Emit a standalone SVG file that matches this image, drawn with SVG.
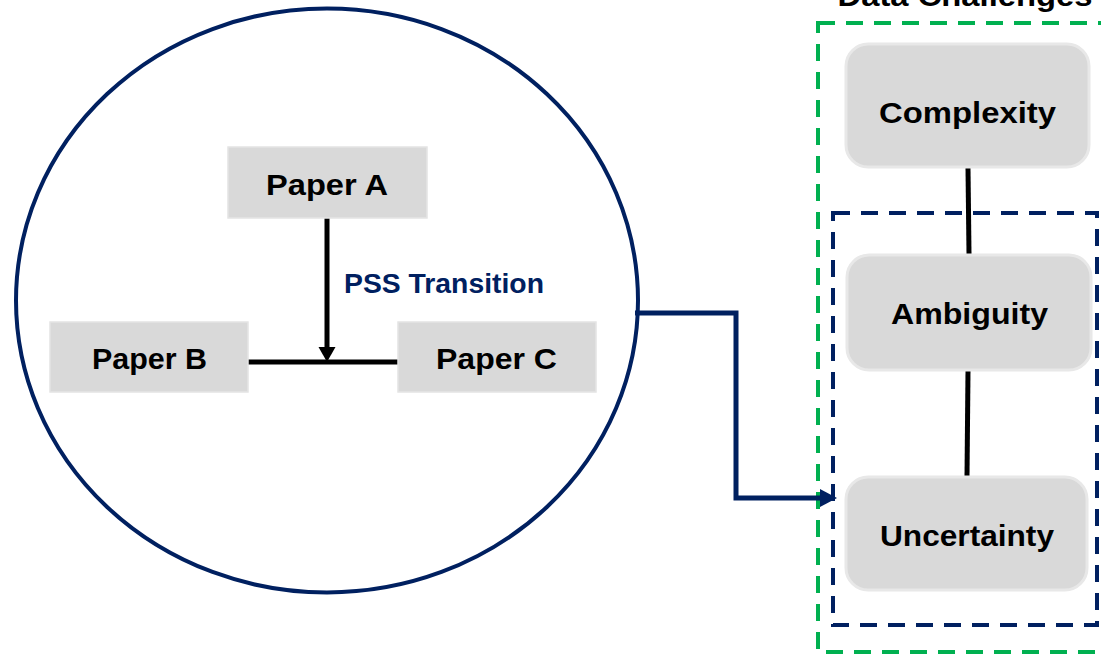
<svg xmlns="http://www.w3.org/2000/svg" width="1101" height="656" viewBox="0 0 1101 656">
  <style>
    .lbl { font-family: "Liberation Sans", Arial, sans-serif; font-weight: bold; fill: #000; text-anchor: middle; }
    .paper { fill: #d9d9d9; stroke: #e4e4e4; stroke-width: 1.5; }
    .chal { fill: #d9d9d9; stroke: #e8e8e8; stroke-width: 3; }
    .link { stroke: #000; stroke-width: 5; fill: none; }
    .navy { stroke: #002060; fill: none; }
  </style>
  <defs>
    <marker id="blackHead" markerWidth="10" markerHeight="10" refX="9" refY="5" orient="auto" markerUnits="userSpaceOnUse" viewBox="0 0 10 10">
      <path d="M0,0 L10,5 L0,10 Z" fill="#000"/>
    </marker>
  </defs>

  <!-- Title (partially above the canvas) -->
  <text class="lbl" x="965" y="6" font-size="29" textLength="255" lengthAdjust="spacingAndGlyphs">Data Challenges</text>

  <!-- Outer green dashed frame and inner navy dashed frame -->
  <rect x="818" y="23" width="300" height="629" fill="none" stroke="#00b050" stroke-width="4" stroke-dasharray="17 11"/>
  <rect x="833" y="213" width="264" height="412" fill="none" stroke="#002060" stroke-width="4" stroke-dasharray="17 11"/>

  <!-- Scope ellipse -->
  <ellipse cx="327" cy="300.5" rx="311" ry="292" class="navy" stroke-width="4"/>

  <!-- Connectors -->
  <g id="connectors">
    <line class="link" x1="327" y1="218" x2="327" y2="350"/>
    <polygon points="318.5,347 335.5,347 327,362" fill="#000"/>
    <line class="link" x1="248" y1="362" x2="398" y2="362"/>
    <line class="link" x1="968" y1="168" x2="969" y2="254"/>
    <line class="link" x1="968" y1="371" x2="967" y2="476"/>
    <path class="navy" stroke-width="5" d="M635,313 H736 V498 H822"/>
    <polygon points="820,489 837,498 820,507" fill="#002060"/>
  </g>

  <!-- Edge label -->
  <text x="344" y="293" font-family="'Liberation Sans', Arial, sans-serif" font-weight="bold" font-size="28" fill="#002060" textLength="200" lengthAdjust="spacingAndGlyphs">PSS Transition</text>

  <!-- Papers -->
  <g id="paper-a">
    <rect class="paper" x="228" y="147" width="199" height="71"/>
    <text class="lbl" x="327" y="195" font-size="30" textLength="122" lengthAdjust="spacingAndGlyphs">Paper A</text>
  </g>
  <g id="paper-b">
    <rect class="paper" x="50" y="322" width="198" height="70"/>
    <text class="lbl" x="149.5" y="369" font-size="30" textLength="115" lengthAdjust="spacingAndGlyphs">Paper B</text>
  </g>
  <g id="paper-c">
    <rect class="paper" x="398" y="322" width="198" height="70"/>
    <text class="lbl" x="496.5" y="369" font-size="30" textLength="121" lengthAdjust="spacingAndGlyphs">Paper C</text>
  </g>

  <!-- Challenges -->
  <g id="complexity">
    <rect class="chal" x="846" y="44" width="243" height="123" rx="22"/>
    <text class="lbl" x="967.5" y="123" font-size="29" textLength="177" lengthAdjust="spacingAndGlyphs">Complexity</text>
  </g>
  <g id="ambiguity">
    <rect class="chal" x="847" y="255" width="244" height="115" rx="22"/>
    <text class="lbl" x="969.5" y="324" font-size="29" textLength="157" lengthAdjust="spacingAndGlyphs">Ambiguity</text>
  </g>
  <g id="uncertainty">
    <rect class="chal" x="846" y="477" width="241" height="113" rx="22"/>
    <text class="lbl" x="967" y="546" font-size="29" textLength="174" lengthAdjust="spacingAndGlyphs">Uncertainty</text>
  </g>
</svg>
